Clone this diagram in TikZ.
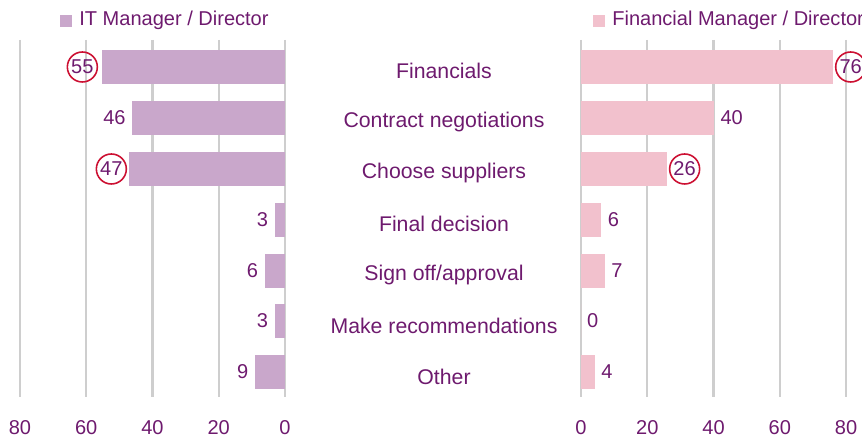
\documentclass[tikz,border=0pt]{standalone}
\usepackage{fontspec}
\setmainfont{Liberation Sans}
\usetikzlibrary{positioning}
\definecolor{itpurple}{RGB}{201,167,203}
\definecolor{finpink}{RGB}{242,193,205}
\definecolor{labelpurple}{RGB}{110,26,110}
\definecolor{ringred}{RGB}{204,16,50}
\definecolor{gridgray}{RGB}{206,206,206}

\begin{document}
\begin{tikzpicture}[x=0.02cm, y=-0.02cm,
    every node/.style={text=labelpurple, font=\fontsize{11.4}{13}\selectfont},
    itbar/.style={fill=itpurple, inner sep=0, minimum height=0.68cm, anchor=east},
    finbar/.style={fill=finpink, inner sep=0, minimum height=0.68cm, anchor=west},
    val/.style={inner sep=0},
    ring/.style={circle, draw=ringred, line width=0.9pt, inner sep=0, minimum size=0.6cm},
    gridline/.style={gridgray, line width=1.3pt},
    keybox/.style={inner sep=0, minimum size=0.24cm},
    category/.style={font=\fontsize{12.1}{14}\selectfont}]
    \useasboundingbox (0,0) rectangle (862,438);

    % Legend
    \node[keybox, fill=itpurple] (itkey) at (66,21) {};
    \node[anchor=west, inner sep=0] (ittitle) at (79,20) {IT Manager / Director};
    \node[keybox, fill=finpink] (finkey) at (599,21) {};
    \node[anchor=west, inner sep=0] (fintitle) at (612,20) {Financial Manager / Director};

    % Grid lines and axis labels, left chart
    \begin{scope}[xshift=0cm, yshift=0cm]
        \draw[gridline] (20,40) -- (20,397);
        \draw[gridline] (86.25,40) -- (86.25,397);
        \draw[gridline] (152.5,40) -- (152.5,397);
        \draw[gridline] (218.75,40) -- (218.75,397);
        \draw[gridline] (285,40) -- (285,397);

        \node (l80) at (20,428) {80};
        \node (l60) at (86.25,428) {60};
        \node (l40) at (152.5,428) {40};
        \node (l20) at (218.75,428) {20};
        \node (l0) at (285,428) {0};

        % Bars, one unit = 0.06625cm
        \node[itbar, minimum width=3.644cm] (itfin) at (285,67) {};
        \node[itbar, minimum width=3.048cm] (itcon) at (285,118) {};
        \node[itbar, minimum width=3.114cm] (itsup) at (285,169) {};
        \node[itbar, minimum width=0.199cm] (itdec) at (285,220) {};
        \node[itbar, minimum width=0.398cm] (itsign) at (285,271) {};
        \node[itbar, minimum width=0.199cm] (itrec) at (285,321) {};
        \node[itbar, minimum width=0.596cm] (itoth) at (285,372) {};

        \node[ring, left=0.08cm of itfin] (vitfin) {55};
        \node[val, left=0.12cm of itcon] (vitcon) {46};
        \node[ring, left=0.03cm of itsup] (vitsup) {47};
        \node[val, left=0.12cm of itdec] (vitdec) {3};
        \node[val, left=0.12cm of itsign] (vitsign) {6};
        \node[val, left=0.12cm of itrec] (vitrec) {3};
        \node[val, left=0.12cm of itoth] (vitoth) {9};
    \end{scope}

    % Grid lines and axis labels, right chart
    \begin{scope}[xshift=0cm, yshift=0cm]
        \draw[gridline] (581,40) -- (581,397);
        \draw[gridline] (647.25,40) -- (647.25,397);
        \draw[gridline] (713.5,40) -- (713.5,397);
        \draw[gridline] (779.75,40) -- (779.75,397);
        \draw[gridline] (846,40) -- (846,397);

        \node (r0) at (581,428) {0};
        \node (r20) at (647.25,428) {20};
        \node (r40) at (713.5,428) {40};
        \node (r60) at (779.75,428) {60};
        \node (r80) at (846,428) {80};

        \node[finbar, minimum width=5.035cm] (finfin) at (581,67) {};
        \node[finbar, minimum width=2.650cm] (fincon) at (581,118) {};
        \node[finbar, minimum width=1.723cm] (finsup) at (581,169) {};
        \node[finbar, minimum width=0.398cm] (findec) at (581,220) {};
        \node[finbar, minimum width=0.464cm] (finsign) at (581,271) {};
        \node[finbar, minimum width=0cm] (finrec) at (581,321) {};
        \node[finbar, minimum width=0.265cm] (finoth) at (581,372) {};

        \node[ring, right=0.03cm of finfin] (vfinfin) {76};
        \node[val, right=0.12cm of fincon] (vfincon) {40};
        \node[ring, right=0.02cm of finsup] (vfinsup) {26};
        \node[val, right=0.12cm of findec] (vfindec) {6};
        \node[val, right=0.12cm of finsign] (vfinsign) {7};
        \node[val, right=0.1cm of finrec] (vfinrec) {0};
        \node[val, right=0.12cm of finoth] (vfinoth) {4};
    \end{scope}

    % Category labels
    \node[category] (cfin) at (444,71) {Financials};
    \node[category] (ccon) at (444,122) {Contract negotiations};
    \node[category] (csup) at (444,173) {Choose suppliers};
    \node[category] (cdec) at (444,224) {Final decision};
    \node[category] (csign) at (444,275) {Sign off/approval};
    \node[category] (crec) at (444,326) {Make recommendations};
    \node[category] (coth) at (444,377) {Other};
\end{tikzpicture}
\end{document}
